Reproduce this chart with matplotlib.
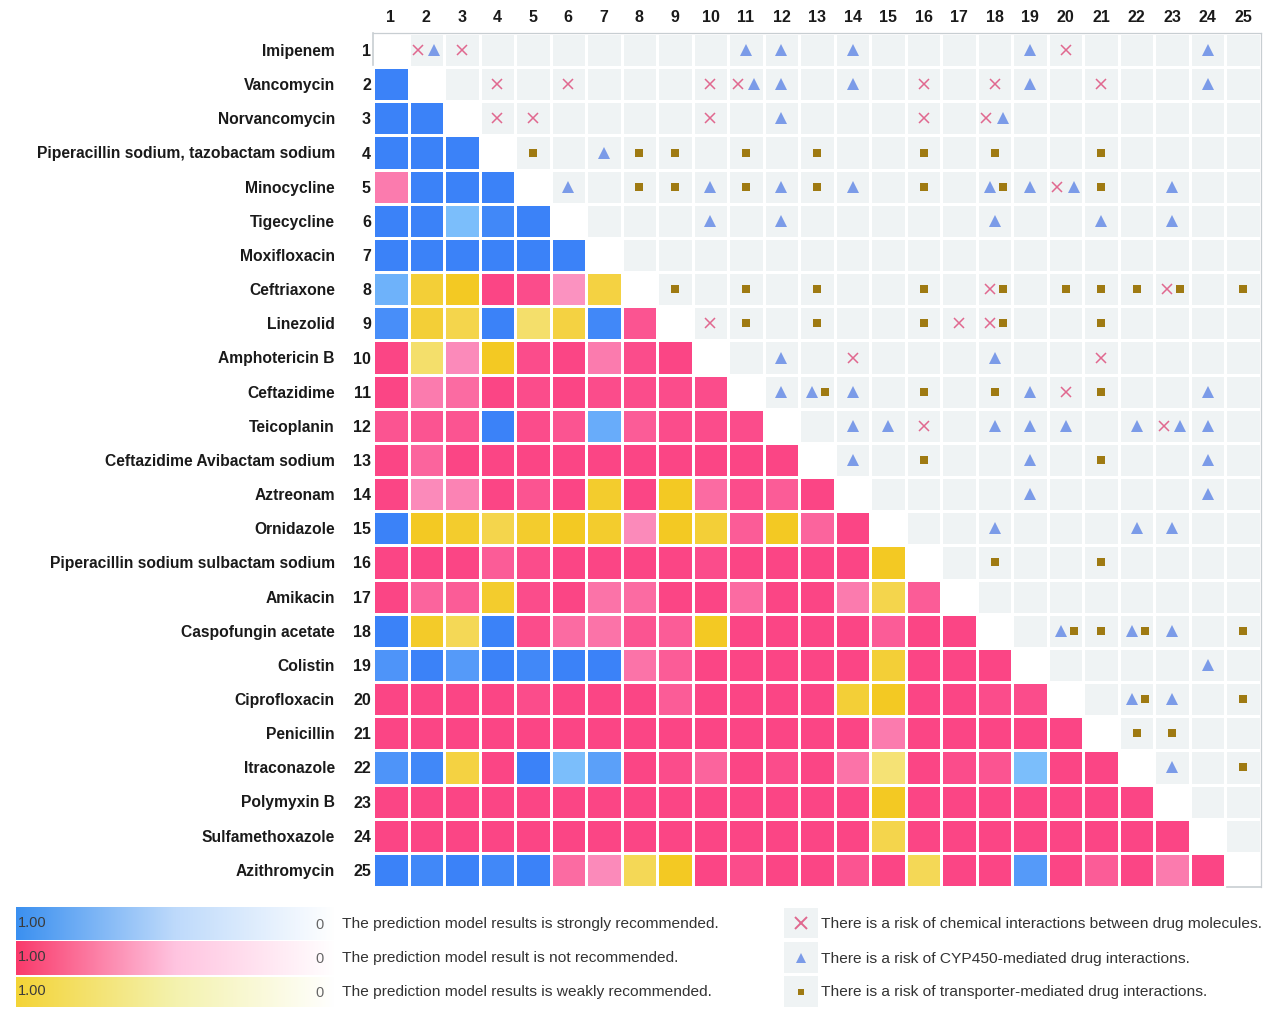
import numpy as np
import matplotlib as mpl
import matplotlib.pyplot as plt
from matplotlib.colors import LinearSegmentedColormap, ListedColormap

drugs = ["Imipenem", "Vancomycin", "Norvancomycin", "Piperacillin sodium, tazobactam sodium",
         "Minocycline", "Tigecycline", "Moxifloxacin", "Ceftriaxone", "Linezolid", "Amphotericin B",
         "Ceftazidime", "Teicoplanin", "Ceftazidime Avibactam sodium", "Aztreonam", "Ornidazole",
         "Piperacillin sodium sulbactam sodium", "Amikacin", "Caspofungin acetate", "Colistin",
         "Ciprofloxacin", "Penicillin", "Itraconazole", "Polymyxin B", "Sulfamethoxazole",
         "Azithromycin"]

# Lower triangle: recommendation class per cell (B strong, P not, Y weak)
kinds = [
    "",
    "B",
    "BB",
    "BBB",
    "PBBB",
    "BBBBB",
    "BBBBBB",
    "BYYPPPY",
    "BYYBYYBP",
    "PYPYPPPPP",
    "PPPPPPPPPP",
    "PPPBPPBPPPP",
    "PPPPPPPPPPPP",
    "PPPPPPYPYPPPP",
    "BYYYYYYPYYPYPP",
    "PPPPPPPPPPPPPPY",
    "PPPYPPPPPPPPPPYP",
    "BYYBPPPPPYPPPPPPP",
    "BBBBBBBPPPPPPPYPPP",
    "PPPPPPPPPPPPPYYPPPP",
    "PPPPPPPPPPPPPPPPPPPP",
    "BBYPBBBPPPPPPPYPPPBPP",
    "PPPPPPPPPPPPPPYPPPPPPP",
    "PPPPPPPPPPPPPPYPPPPPPPP",
    "BBBBBPPYYPPPPPPYPPBPPPPP",
]

# Model score per cell, same shape as kinds
scores = [
    [],
    [1.0],
    [1.0, 1.0],
    [1.0, 1.0, 1.0],
    [0.65, 1.0, 1.0, 1.0],
    [1.0, 1.0, 0.5, 0.95, 1.0],
    [1.0, 1.0, 1.0, 1.0, 1.0, 1.0],
    [0.6, 0.9, 1.0, 1.0, 0.95, 0.5, 0.85],
    [0.9, 0.9, 0.8, 1.0, 0.65, 0.85, 0.95, 0.9],
    [1.0, 0.65, 0.55, 1.0, 0.95, 1.0, 0.65, 0.95, 1.0],
    [1.0, 0.65, 0.75, 1.0, 0.95, 1.0, 0.95, 0.95, 0.95, 0.95],
    [0.9, 0.9, 0.9, 1.0, 0.95, 0.9, 0.65, 0.85, 0.95, 0.95, 0.95],
    [1.0, 0.8, 1.0, 1.0, 1.0, 1.0, 1.0, 1.0, 1.0, 1.0, 1.0, 1.0],
    [1.0, 0.55, 0.6, 1.0, 0.9, 1.0, 0.95, 1.0, 1.0, 0.75, 0.95, 0.85, 1.0],
    [1.0, 1.0, 0.95, 0.8, 0.95, 1.0, 0.95, 0.55, 1.0, 0.9, 0.85, 1.0, 0.8, 1.0],
    [1.0, 1.0, 1.0, 0.85, 0.95, 1.0, 1.0, 1.0, 1.0, 0.95, 1.0, 1.0, 1.0, 1.0, 1.0],
    [1.0, 0.8, 0.85, 0.95, 0.95, 1.0, 0.7, 0.75, 1.0, 1.0, 0.75, 1.0, 1.0, 0.65, 0.8, 0.85],
    [1.0, 0.97, 0.75, 1.0, 0.95, 0.75, 0.7, 0.9, 0.85, 1.0, 1.0, 1.0, 1.0, 1.0, 0.85, 1.0, 1.0],
    [0.85, 1.0, 0.8, 1.0, 0.95, 1.0, 1.0, 0.7, 0.85, 1.0, 1.0, 1.0, 1.0, 1.0, 0.9, 1.0, 1.0, 1.0],
    [1.0, 1.0, 1.0, 1.0, 0.95, 1.0, 1.0, 1.0, 0.85, 1.0, 1.0, 1.0, 1.0, 0.9, 1.0, 1.0, 1.0, 0.95, 0.95],
    [1.0, 1.0, 1.0, 1.0, 1.0, 1.0, 1.0, 1.0, 1.0, 1.0, 1.0, 1.0, 1.0, 1.0, 0.65, 1.0, 1.0, 1.0, 1.0, 1.0],
    [0.85, 0.95, 0.85, 1.0, 1.0, 0.5, 0.75, 1.0, 0.95, 0.8, 1.0, 0.95, 1.0, 0.7, 0.6, 1.0, 0.95, 0.9, 0.5, 1.0, 1.0],
    [1.0, 1.0, 1.0, 1.0, 1.0, 1.0, 1.0, 1.0, 1.0, 1.0, 1.0, 1.0, 1.0, 1.0, 1.0, 1.0, 1.0, 1.0, 1.0, 1.0, 1.0, 1.0],
    [1.0, 1.0, 1.0, 1.0, 1.0, 1.0, 1.0, 1.0, 1.0, 1.0, 1.0, 1.0, 1.0, 1.0, 0.8, 1.0, 1.0, 1.0, 1.0, 1.0, 1.0, 1.0, 1.0],
    [1.0, 0.95, 1.0, 0.95, 1.0, 0.75, 0.55, 0.75, 1.0, 1.0, 0.95, 1.0, 1.0, 0.9, 1.0, 0.75, 1.0, 1.0, 0.8, 1.0, 0.85, 1.0, 0.65, 1.0],
]

# Upper triangle: row -> columns with each risk
chemical = {1: [2, 3, 20], 2: [4, 6, 10, 11, 16, 18, 21], 3: [4, 5, 10, 16, 18], 5: [20],
            8: [18, 23], 9: [10, 17, 18], 10: [14, 21], 11: [20], 12: [16, 23]}
cyp450 = {1: [2, 11, 12, 14, 19, 24], 2: [11, 12, 14, 19, 24], 3: [12, 18], 4: [7],
          5: [6, 10, 12, 14, 18, 19, 20, 23], 6: [10, 12, 18, 21, 23], 10: [12, 18],
          11: [12, 13, 14, 19, 24], 12: [14, 15, 18, 19, 20, 22, 23, 24], 13: [14, 19, 24],
          14: [19, 24], 15: [18, 22, 23], 18: [20, 22, 23], 19: [24], 20: [22, 23], 22: [23]}
transporter = {4: [5, 8, 9, 11, 13, 16, 18, 21], 5: [8, 9, 11, 13, 16, 18, 21],
               8: [9, 11, 13, 16, 18, 20, 21, 22, 23, 25], 9: [11, 13, 16, 18, 21],
               11: [13, 16, 18, 21], 13: [16, 21], 16: [18, 21], 18: [20, 21, 22, 25],
               20: [22, 25], 21: [22, 23], 22: [25]}

legend_left = ["The prediction model results is strongly recommended.",
               "The prediction model result is not recommended.",
               "The prediction model results is weakly recommended."]
legend_right = ["There is a risk of chemical interactions between drug molecules.",
                "There is a risk of CYP450-mediated drug interactions.",
                "There is a risk of transporter-mediated drug interactions."]

W, H = 1280, 1017
mpl.rcParams["font.family"] = ["Liberation Sans", "DejaVu Sans"]


def px(x, y):
    return x / W, 1 - y / H


def mesh_cmap(light, full):
    return LinearSegmentedColormap.from_list("c", [(0, "#ffffff"), (0.5, light), (1, full)])


cell_cmaps = {"B": mesh_cmap("#7bbefb", "#3b82f8"),
              "P": mesh_cmap("#fb92c0", "#fb4585"),
              "Y": mesh_cmap("#f5e88a", "#f3c923")}

n = len(drugs)
fig = plt.figure(figsize=(W / 100, H / 100), dpi=100)
x0, y1 = px(373, 887)
x1, y0 = px(1261, 33)
ax = fig.add_axes([x0, y1, x1 - x0, y0 - y1])

edges = np.arange(n + 1) + 0.5
mesh_style = dict(edgecolors="white", linewidth=1.9, vmin=0, vmax=1)

# Grey background for the upper triangle
upper = np.ma.masked_array(np.ones((n, n)), mask=np.tri(n, n, 0, dtype=bool))
ax.pcolormesh(edges, edges, upper, cmap=ListedColormap(["#eff3f4"]), **mesh_style)

# One mesh per recommendation class
for kind, cmap in cell_cmaps.items():
    values = np.ma.masked_all((n, n))
    for r, row in enumerate(kinds):
        for c, k in enumerate(row):
            if k == kind:
                values[r, c] = scores[r][c]
    ax.pcolormesh(edges, edges, values, cmap=cmap, **mesh_style)


def draw_risks(risks, others, marker, color, size, mew=0.0):
    for row, cols in risks.items():
        for col in cols:
            # Two symbols share a cell: shift them apart
            offset = 0.0
            for other, side in others:
                if col in other.get(row, []):
                    offset = side
            ax.plot(col + offset, row, marker=marker, color=color, ms=size, mew=mew,
                    ls="none", zorder=4)


draw_risks(chemical, [(cyp450, -0.23), (transporter, -0.14)], "x", "#e0688f", 7.2, 1.1)
draw_risks(cyp450, [(chemical, 0.23), (transporter, -0.14)], "^", "#7b9be8", 8.6)
draw_risks(transporter, [(cyp450, 0.23), (chemical, 0.23)], "s", "#9f7a12", 6.0)

ax.set_xlim(0.5, n + 0.5)
ax.set_ylim(n + 0.5, 0.5)
ax.xaxis.tick_top()
ax.set_xticks(np.arange(1, n + 1), [str(i) for i in range(1, n + 1)], fontsize=11.5, fontweight="bold")
ax.set_yticks(np.arange(1, n + 1), [str(i) for i in range(1, n + 1)], fontsize=11.5, fontweight="bold")
ax.tick_params(length=0, pad=1.5, colors="#1a1a1a")
ax.tick_params(axis="x", pad=5.5)
for side, spine in ax.spines.items():
    spine.set_visible(side in ("top", "right"))
    spine.set_color("#c8ced2")
    spine.set_linewidth(0.9)
ax.plot([0.5, 0.5], [0.5, 1.45], color="#c8ced2", lw=1.2, clip_on=False, zorder=5)
ax.plot([n - 0.45, n + 0.5], [n + 0.5, n + 0.5], color="#c8ced2", lw=1.2, clip_on=False, zorder=5)

for i, name in enumerate(drugs):
    ax.annotate(name, (0, i + 1), xycoords=("axes fraction", "data"), xytext=(-27.5, -1),
                textcoords="offset points", ha="right", va="center", fontsize=11.25,
                fontweight="bold", color="#1a1a1a")

# Gradient legend
gradient = np.linspace(1, 0, 256)[None, :]
bars = [(907, 940, ["#ffffff", "#bedafb", "#3b90f0"]),
        (941, 975, ["#ffffff", "#ffc4e0", "#f93a6b"]),
        (977, 1007, ["#ffffff", "#f4f2ae", "#f3d437"])]
text_y = [923, 957, 991]
for (top, bottom, stops), y, label in zip(bars, text_y, legend_left):
    lx, ly = px(16, bottom)
    rx, ry = px(335, top)
    cax = fig.add_axes([lx, ly, rx - lx, ry - ly])
    cax.imshow(gradient, aspect="auto", cmap=LinearSegmentedColormap.from_list("l", stops), vmin=0, vmax=1)
    cax.axis("off")
    fig.text(*px(18, y), "1.00", fontsize=10.5, color="#3a3a3a", va="center", ha="left")
    fig.text(*px(320, y + 2), "0", fontsize=10.5, color="#666666", va="center", ha="center")
    fig.text(*px(342, y + 1), label, fontsize=11.15, color="#333333", va="center", ha="left")

# Symbol legend
boxes = [(908, 938), (942, 973), (976, 1007)]
symbols = [("x", "#e0688f", 8.0, 1.4), ("^", "#7b9be8", 6.8, 0), ("s", "#9f7a12", 5.0, 0)]
right_y = [924, 959, 992]
for (top, bottom), (marker, color, size, mew), y, label in zip(boxes, symbols, right_y, legend_right):
    lx, ly = px(784, bottom)
    rx, ry = px(818, top)
    bax = fig.add_axes([lx, ly, rx - lx, ry - ly], facecolor="#eff3f4")
    bax.set_xticks([])
    bax.set_yticks([])
    for spine in bax.spines.values():
        spine.set_visible(False)
    bax.set_xlim(-1, 1)
    bax.set_ylim(-1, 1)
    bax.plot(0, 0, marker=marker, color=color, ms=size, mew=mew, ls="none")
    fig.text(*px(821, y), label, fontsize=11.15, color="#333333", va="center", ha="left")

fig.savefig("out.png", dpi=100)
plt.close(fig)
